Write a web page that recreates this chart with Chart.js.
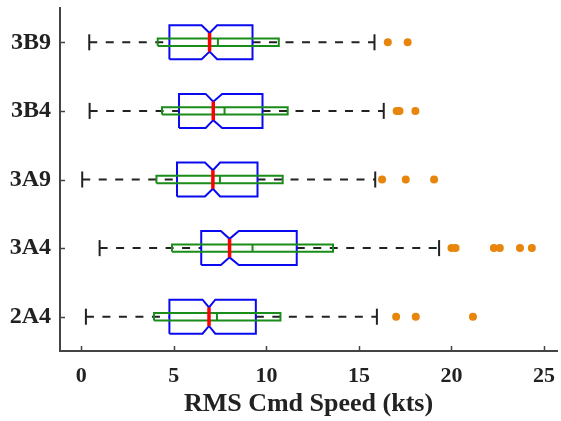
<!DOCTYPE html>
<html>
<head>
<meta charset="utf-8">
<script src="https://cdn.jsdelivr.net/npm/chart.js@4"></script>
<style>
  html, body { margin: 0; padding: 0; background: #fff; }
  #wrap { width: 561px; height: 421px; }
</style>
</head>
<body>
<div id="wrap"><canvas id="chart" width="561" height="421"></canvas></div>
<script>
// categories, bottom to top
const categories = ['2A4', '3A4', '3A9', '3B4', '3B9'];

// blue notched boxes (kts)
const lowerWhisker = [0.25, 0.99, 0.05, 0.45, 0.43];
const q1 = [4.76, 6.48, 5.17, 5.28, 4.76];
const notchLow = [6.55, 7.54, 6.68, 6.72, 6.50];
const medians = [6.90, 8.01, 7.11, 7.13, 6.93];
const notchHigh = [7.24, 8.51, 7.50, 7.61, 7.34];
const q3 = [9.43, 11.64, 9.52, 9.79, 9.25];
const upperWhisker = [15.97, 19.33, 15.88, 16.34, 15.84];

// green inner boxes
const innerLow = [3.93, 4.90, 4.06, 4.36, 4.13];
const innerMid = [7.33, 9.25, 7.49, 7.74, 7.38];
const innerHigh = [10.76, 13.60, 10.88, 11.15, 10.67];

// outliers
const outliers = [
    [17.01, 18.07, 21.16],
    [20.00, 20.22, 22.29, 22.61, 23.70, 24.34],
    [16.25, 17.53, 19.06],
    [17.04, 17.19, 18.05],
    [16.56, 17.63]
];

const xTicks = [0, 5, 10, 15, 20, 25];

const BLUE = '#0a0af0';
const GREEN = '#1a8c1a';
const RED = '#ff0000';
const ORANGE = '#e8850c';
const AXIS = '#444444';
const TEXT = '#222222';
const FONT = "'Liberation Serif', 'Times New Roman', serif";

// half heights in category units
const boxH = 0.248;
const notchH = 0.135;
const innerH = 0.054;
const capH = 0.117;

function seg(data, color, width, dash) {
    return {
        data: data,
        showLine: true,
        borderColor: color,
        borderWidth: width,
        borderDash: dash || [],
        borderCapStyle: 'butt',
        borderJoinStyle: 'miter',
        pointRadius: 0,
        pointHoverRadius: 0,
        tension: 0,
        fill: false
    };
}

const medianSets = [], innerSets = [], boxSets = [], whiskerSets = [], outlierSets = [];

categories.forEach((c, i) => {
    const y = i + 1;
    medianSets.push(seg([{x: medians[i], y: y - notchH}, {x: medians[i], y: y + notchH}], RED, 3.5));

    innerSets.push(seg([
        {x: innerLow[i], y: y - innerH}, {x: innerHigh[i], y: y - innerH},
        {x: innerHigh[i], y: y + innerH}, {x: innerLow[i], y: y + innerH},
        {x: innerLow[i], y: y - innerH}
    ], GREEN, 2));
    innerSets.push(seg([{x: innerMid[i], y: y - innerH}, {x: innerMid[i], y: y + innerH}], GREEN, 2));

    boxSets.push(seg([
        {x: q1[i], y: y - boxH}, {x: notchLow[i], y: y - boxH}, {x: medians[i], y: y - notchH},
        {x: notchHigh[i], y: y - boxH}, {x: q3[i], y: y - boxH},
        {x: q3[i], y: y + boxH}, {x: notchHigh[i], y: y + boxH}, {x: medians[i], y: y + notchH},
        {x: notchLow[i], y: y + boxH}, {x: q1[i], y: y + boxH}, {x: q1[i], y: y - boxH}
    ], BLUE, 2));

    whiskerSets.push(seg([{x: lowerWhisker[i], y: y}, {x: q1[i], y: y}], '#222', 2, [8, 8.5]));
    whiskerSets.push(seg([{x: q3[i], y: y}, {x: upperWhisker[i], y: y}], '#222', 2, [8, 8.5]));
    whiskerSets.push(seg([{x: lowerWhisker[i], y: y - capH}, {x: lowerWhisker[i], y: y + capH}], '#222', 2));
    whiskerSets.push(seg([{x: upperWhisker[i], y: y - capH}, {x: upperWhisker[i], y: y + capH}], '#222', 2));

    outlierSets.push({
        data: outliers[i].map(v => ({x: v, y: y})),
        showLine: false,
        pointRadius: 4,
        pointHoverRadius: 4,
        pointBackgroundColor: ORANGE,
        pointBorderWidth: 0,
        borderColor: ORANGE
    });
});

// inward tick marks on the two spines
const innerTicks = {
    id: 'innerTicks',
    afterDraw(chart) {
        const ctx = chart.ctx;
        const xs = chart.scales.x, ys = chart.scales.y;
        const area = chart.chartArea;
        ctx.save();
        ctx.strokeStyle = AXIS;
        ctx.lineWidth = 1.5;
        ctx.beginPath();
        xTicks.forEach(v => {
            const px = Math.round(xs.getPixelForValue(v)) + 0.5;
            ctx.moveTo(px, area.bottom);
            ctx.lineTo(px, area.bottom - 5);
        });
        categories.forEach((c, i) => {
            const py = Math.round(ys.getPixelForValue(i + 1)) + 0.5;
            ctx.moveTo(area.left, py);
            ctx.lineTo(area.left + 5, py);
        });
        ctx.stroke();
        ctx.restore();
    }
};

const ctx = document.getElementById('chart').getContext('2d');
new Chart(ctx, {
    type: 'scatter',
    data: {
        datasets: [].concat(medianSets, innerSets, boxSets, whiskerSets, outlierSets)
    },
    options: {
        responsive: false,
        animation: false,
        events: [],
        layout: {padding: {left: 0, right: 3, top: 8, bottom: 0}},
        plugins: {
            legend: {display: false},
            tooltip: {enabled: false}
        },
        scales: {
            x: {
                type: 'linear',
                min: -1.15,
                max: 25.7,
                afterBuildTicks: scale => {
                    scale.ticks = xTicks.map(v => ({value: v}));
                },
                afterFit: scale => {
                    scale.height = 70;
                    scale.paddingLeft = 0;
                    scale.paddingRight = 0;
                },
                grid: {display: true, drawOnChartArea: false, drawTicks: false},
                border: {display: true, color: AXIS, width: 2},
                ticks: {
                    color: TEXT,
                    padding: 12,
                    maxRotation: 0,
                    font: {family: FONT, size: 22, weight: 'bold'}
                },
                title: {
                    display: true,
                    text: 'RMS Cmd Speed (kts)',
                    color: TEXT,
                    padding: {top: 0, bottom: 1},
                    font: {family: FONT, size: 26, weight: 'bold'}
                }
            },
            y: {
                type: 'linear',
                min: 0.5,
                max: 5.5,
                afterBuildTicks: scale => {
                    scale.ticks = categories.map((c, i) => ({value: i + 1}));
                },
                afterFit: scale => {
                    scale.width = 60;
                    scale.paddingTop = 0;
                    scale.paddingBottom = 0;
                },
                grid: {display: true, drawOnChartArea: false, drawTicks: false},
                border: {display: true, color: AXIS, width: 2},
                ticks: {
                    color: TEXT,
                    padding: 9,
                    callback: v => categories[v - 1] || '',
                    font: {family: FONT, size: 24, weight: 'bold'}
                }
            }
        }
    },
    plugins: [innerTicks]
});
</script>
</body>
</html>
